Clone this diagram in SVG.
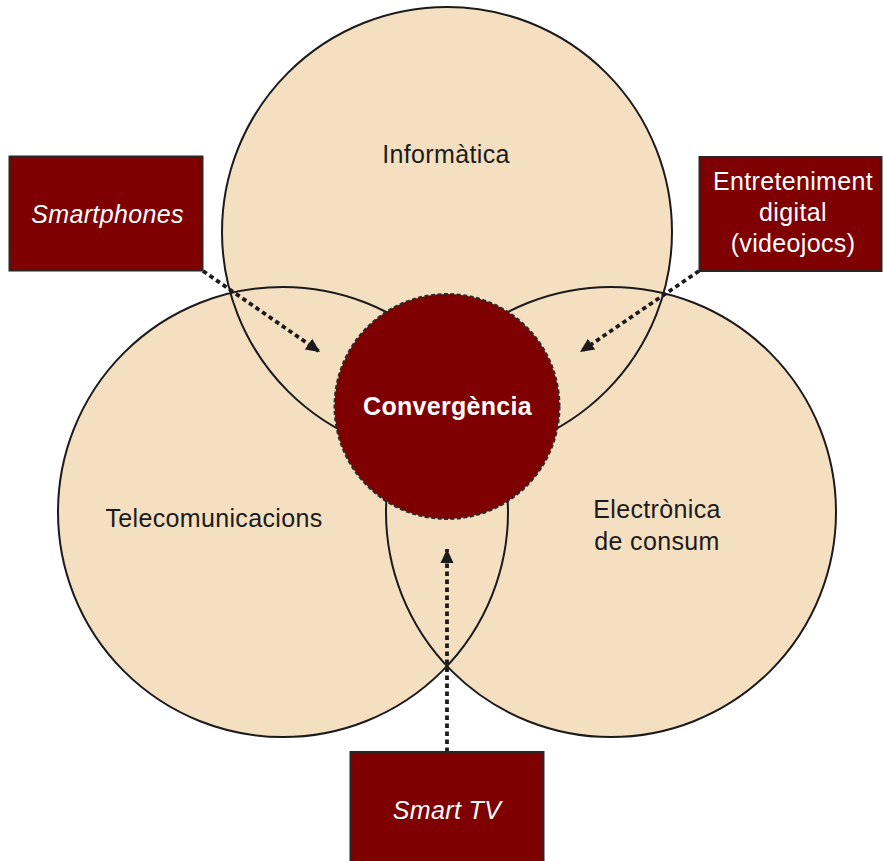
<svg xmlns="http://www.w3.org/2000/svg" xmlns:xlink="http://www.w3.org/1999/xlink" width="883" height="861" viewBox="0 0 883 861">
  <style>
    .area { fill: #f4e0c1; stroke: none; }
    .ring { fill: none; stroke: #1c1a1c; stroke-width: 2; }
    .lbl { font-family: "Liberation Sans", Arial, sans-serif; font-size: 25px; letter-spacing: 0.35px; fill: #1c1a1c; text-anchor: middle; }
    .box { fill: #7f0000; stroke: #2b2626; stroke-width: 2; }
    .boxtxt { font-family: "Liberation Sans", Arial, sans-serif; font-size: 25px; letter-spacing: 0.35px; fill: #ffffff; text-anchor: middle; }
    .it { font-style: italic; }
    .core { fill: #7f0000; stroke: #2a2a2a; stroke-width: 2; stroke-dasharray: 4 2.5; }
    .coretxt { font-family: "Liberation Sans", Arial, sans-serif; font-size: 25px; font-weight: bold; letter-spacing: 0.3px; fill: #ffffff; text-anchor: middle; }
    .link { fill: none; stroke: #1c1a1c; stroke-width: 3.8; stroke-dasharray: 4.5 3.5; }
  </style>
  <defs>
    <circle id="c-top" cx="447" cy="232" r="225"/>
    <circle id="c-left" cx="283" cy="512" r="225"/>
    <circle id="c-right" cx="611" cy="512" r="225"/>
    <marker id="head" markerUnits="userSpaceOnUse" markerWidth="16" markerHeight="16" viewBox="0 0 16 16" refX="14" refY="8" orient="auto">
      <path d="M0,1.5 L14,8 L0,14.5 Z" fill="#1c1a1c"/>
    </marker>
  </defs>

  <!-- overlapping domains: fills first, outlines on top -->
  <g id="informatica">
    <use xlink:href="#c-top" class="area"/>
  </g>
  <g id="telecomunicacions">
    <use xlink:href="#c-left" class="area"/>
  </g>
  <g id="electronica">
    <use xlink:href="#c-right" class="area"/>
  </g>
  <g id="outlines">
    <use xlink:href="#c-top" class="ring"/>
    <use xlink:href="#c-left" class="ring"/>
    <use xlink:href="#c-right" class="ring"/>
  </g>
  <g id="domain-labels">
    <text class="lbl" x="446" y="163">Informàtica</text>
    <text class="lbl" x="214" y="527">Telecomunicacions</text>
    <text class="lbl" x="657" y="518">Electrònica</text>
    <text class="lbl" x="657" y="550">de consum</text>
  </g>

  <g id="convergencia">
    <circle class="core" cx="447" cy="406.5" r="112.5"/>
    <text class="coretxt" x="447.5" y="415">Convergència</text>
  </g>

  <g id="connectors">
    <path class="link" d="M203,271 L320,352" marker-end="url(#head)"/>
    <path class="link" d="M699,271 L580,352" marker-end="url(#head)"/>
    <path class="link" d="M447,752 L447,549" marker-end="url(#head)"/>
  </g>

  <g id="smartphones">
    <rect class="box" x="9.5" y="156.5" width="193" height="114"/>
    <text class="boxtxt it" x="107.5" y="223">Smartphones</text>
  </g>
  <g id="entreteniment">
    <rect class="box" x="699.5" y="157" width="182" height="114"/>
    <text class="boxtxt" x="793" y="190">Entreteniment</text>
    <text class="boxtxt" x="793" y="221">digital</text>
    <text class="boxtxt" x="793" y="252">(videojocs)</text>
  </g>
  <g id="smart-tv">
    <rect class="box" x="350.5" y="752" width="193" height="115"/>
    <text class="boxtxt it" x="447" y="819">Smart TV</text>
  </g>
</svg>
